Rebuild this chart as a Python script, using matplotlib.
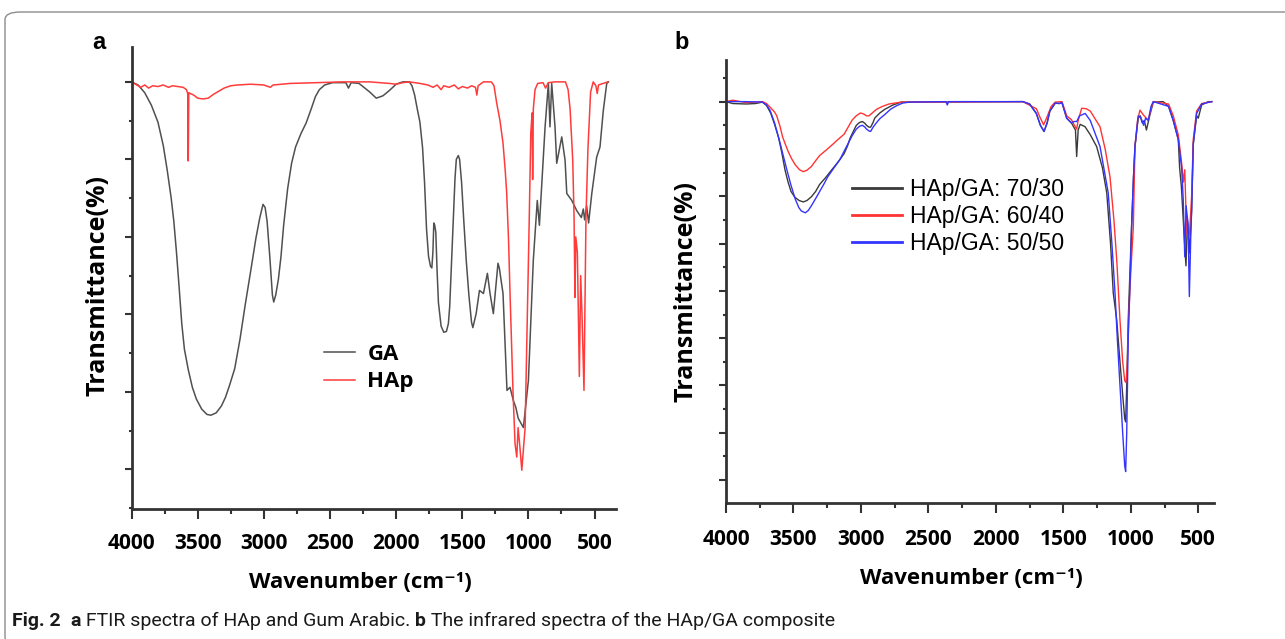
import matplotlib
matplotlib.use("Agg")
import matplotlib.pyplot as plt
from matplotlib.patches import FancyBboxPatch
from matplotlib.ticker import MultipleLocator, FixedLocator

# ---- panel a: FTIR of gum arabic (GA) and hydroxyapatite (HAp) ----
ga_wn = [4000, 3950, 3900, 3850, 3800, 3760, 3730, 3700, 3680, 3660, 3640, 3620, 3600,
         3570, 3540, 3510, 3470, 3430, 3400, 3360, 3320, 3290, 3260, 3220, 3180, 3140,
         3100, 3060, 3030, 3006, 2990, 2975, 2955, 2935, 2925, 2910, 2890, 2870, 2850,
         2820, 2790, 2760, 2720, 2680, 2640, 2610, 2580, 2540, 2480, 2380, 2360, 2340,
         2280, 2200, 2150, 2100, 2050, 2000, 1950, 1900, 1880, 1860, 1840, 1820, 1800,
         1785, 1770, 1755, 1740, 1730, 1722, 1715, 1708, 1700, 1690, 1680, 1660, 1640,
         1620, 1605, 1595, 1585, 1570, 1555, 1545, 1530, 1520, 1505, 1490, 1470, 1450,
         1430, 1420, 1395, 1370, 1340, 1310, 1290, 1265, 1230, 1220, 1192, 1162, 1139,
         1114, 1095, 1077, 1038, 1000, 963, 933, 917, 899, 874, 849, 837, 824, 799, 786,
         748, 723, 710, 672, 635, 600, 585, 575, 560, 545, 521, 484, 459, 434, 408, 395]
ga_t = [100, 99.6, 98.6, 97.0, 94.8, 91.8, 88.6, 85.0, 82.0, 78.0, 73.5, 68.8, 65.5,
        62.8, 60.6, 59.1, 57.8, 57.1, 57.0, 57.3, 58.2, 59.3, 60.8, 63.0, 66.8, 71.3,
        75.5, 79.8, 82.5, 84.2, 83.8, 82.0, 77.5, 72.5, 71.6, 72.5, 74.5, 77.5, 81.5,
        86.2, 89.5, 91.6, 93.3, 94.7, 96.6, 98.1, 99.0, 99.6, 99.9, 99.9, 99.2, 99.9,
        99.8, 98.7, 97.9, 98.2, 98.9, 99.7, 100, 100, 99.5, 98.3, 96.5, 94.8, 91.5,
        87.0, 81.0, 77.5, 76.2, 76.0, 78.0, 81.8, 81.5, 80.6, 75.5, 71.5, 68.5, 67.7,
        67.8, 68.8, 71.0, 75.0, 81.3, 87.5, 90.0, 90.5, 90.0, 87.0, 82.5, 77.0, 72.5,
        69.0, 68.3, 70.1, 73.1, 72.7, 75.3, 72.7, 70.1, 76.6, 76.0, 72.7, 60.2, 60.6,
        58.9, 58.0, 56.6, 55.4, 61.5, 77.0, 84.7, 81.5, 86.9, 94.2, 99.8, 94.2, 99.8,
        94.2, 89.5, 92.9, 89.9, 85.6, 84.7, 83.4, 82.5, 83.6, 82.2, 84.0, 81.8, 85.6,
        90.3, 91.6, 96.3, 99.8, 100]

hap_wn = [4000, 3960, 3930, 3900, 3870, 3840, 3800, 3760, 3720, 3690, 3650, 3610, 3585,
          3575, 3571, 3567, 3555, 3530, 3500, 3460, 3420, 3380, 3340, 3300, 3250, 3200,
          3100, 3000, 2950, 2930, 2800, 2600, 2400, 2200, 2050, 2000, 1950, 1900, 1820,
          1760, 1720, 1690, 1660, 1640, 1600, 1560, 1530, 1500, 1460, 1430, 1400, 1390,
          1380, 1340, 1280, 1260, 1240, 1215, 1192, 1175, 1164, 1150, 1139, 1127, 1116,
          1101, 1088, 1078, 1065, 1050, 1025, 1010, 995, 982, 972, 968, 963, 950, 930,
          890, 870, 850, 800, 720, 700, 685, 665, 655, 648, 642, 630, 615, 605, 595, 580,
          570, 565, 550, 530, 510, 490, 480, 470, 400]
hap_t = [100, 99.6, 99.3, 99.6, 99.2, 99.5, 99.4, 99.6, 99.3, 99.5, 99.4, 99.3, 99.0,
         98.5, 89.8, 98.6, 98.5, 98.3, 97.9, 97.8, 97.9, 98.4, 98.8, 99.2, 99.5, 99.6,
         99.7, 99.6, 99.3, 99.6, 99.8, 99.9, 100, 100, 99.8, 99.7, 99.9, 100, 99.8,
         99.6, 99.3, 99.6, 99.0, 99.5, 99.3, 99.6, 99.1, 99.4, 99.2, 99.5, 99.3, 98.3,
         99.5, 100, 100, 99.5, 97.3, 95.0, 92.1, 88.5, 85.6, 79.5, 72.7, 66.0, 59.8,
         53.3, 51.6, 55.4, 53.0, 49.9, 55.4, 68.3, 81.2, 93.4, 96.0, 87.4, 96.5, 99.0,
         99.8, 99.9, 99.2, 99.9, 100, 100, 99.0, 96.5, 89.9, 82.5, 72.2, 80.0, 78.0,
         62.0, 75.0, 70.0, 60.2, 75.0, 82.5, 91.4, 98.7, 100, 99.5, 98.5, 99.6, 100]

# ---- panel b: HAp/GA composites ----
c70_wn = [4000, 3950, 3850, 3780, 3730, 3700, 3669, 3640, 3609, 3585, 3563, 3540, 3518,
          3490, 3458, 3427, 3400, 3367, 3336, 3306, 3260, 3216, 3170, 3125, 3100, 3080,
          3055, 3034, 3010, 2989, 2970, 2959, 2940, 2928, 2910, 2898, 2860, 2822, 2762,
          2702, 1800, 1750, 1700, 1670, 1643, 1620, 1600, 1560, 1530, 1510, 1475, 1440,
          1410, 1401, 1390, 1375, 1339, 1300, 1253, 1210, 1178, 1150, 1130, 1104, 1080,
          1060, 1045, 1038, 1030, 1019, 1005, 994, 980, 969, 945, 930, 915, 900, 884, 860,
          833, 760, 720, 685, 648, 638, 625, 605, 591, 580, 565, 549, 537, 512, 500, 475,
          426, 400]
c70_t = [100, 99.6, 99.5, 99.6, 99.9, 99.2, 97.6, 95.2, 92.3, 89.0, 85.6, 83.0, 81.0,
         79.8, 79.1, 78.8, 79.1, 79.9, 81.0, 82.5, 84.0, 85.6, 87.2, 89.0, 90.6, 92.3,
         93.8, 95.0, 95.6, 95.8, 95.4, 95.0, 94.6, 94.6, 95.6, 96.5, 97.6, 98.4, 99.3,
         99.9, 100, 99.5, 97.5, 95.0, 93.7, 95.5, 98.0, 99.7, 99.6, 99.8, 96.5, 95.5,
         94.0, 88.4, 94.0, 95.2, 94.7, 93.0, 90.5, 86.0, 80.7, 70.0, 59.6, 53.8, 45.0,
         38.0, 33.0, 32.3, 40.0, 53.8, 65.0, 73.6, 84.0, 90.5, 96.5, 97.0, 95.5, 96.0,
         94.0, 97.0, 99.9, 100, 99.0, 96.0, 92.0, 86.0, 82.0, 72.0, 65.3, 75.0, 68.0,
         77.0, 91.0, 97.0, 96.5, 99.3, 100, 100]

c60_wn = [4000, 3950, 3850, 3730, 3700, 3669, 3640, 3624, 3600, 3580, 3563, 3540, 3515,
          3488, 3455, 3427, 3400, 3367, 3336, 3306, 3260, 3216, 3170, 3125, 3095, 3065,
          3035, 3004, 2980, 2959, 2940, 2928, 2900, 2883, 2840, 2792, 2702, 1800, 1700,
          1670, 1646, 1620, 1590, 1560, 1510, 1475, 1440, 1410, 1401, 1390, 1364, 1330,
          1300, 1228, 1190, 1154, 1125, 1104, 1080, 1060, 1045, 1035, 1025, 1015, 1000,
          981, 969, 950, 932, 907, 885, 870, 850, 833, 720, 685, 648, 623, 610, 600, 592,
          583, 574, 565, 549, 537, 512, 475, 400]
c60_t = [100, 100.3, 99.8, 100, 99.6, 98.7, 97.8, 97.0, 94.8, 92.5, 91.2, 89.5, 88.0,
         86.7, 85.6, 85.2, 85.5, 86.3, 87.5, 88.6, 89.7, 90.8, 92.0, 93.1, 94.6, 96.1,
         97.0, 97.6, 97.4, 97.0, 97.0, 97.3, 98.0, 98.4, 99.0, 99.5, 99.9, 100, 98.5,
         96.5, 95.1, 96.8, 99.0, 99.9, 100, 97.0, 96.2, 94.6, 94.2, 96.0, 98.6, 98.5,
         98.0, 94.7, 90.0, 84.1, 75.0, 66.5, 53.8, 45.0, 41.0, 40.6, 45.0, 55.0, 64.0,
         73.6, 90.5, 96.0, 98.2, 97.2, 96.5, 96.1, 98.5, 100, 99.5, 97.0, 93.0, 87.0,
         83.0, 85.6, 78.0, 72.0, 71.1, 72.0, 80.0, 92.0, 98.0, 99.6, 100]

c50_wn = [4000, 3950, 3850, 3730, 3700, 3674, 3640, 3600, 3575, 3549, 3520, 3488, 3460,
          3442, 3412, 3390, 3367, 3336, 3306, 3276, 3246, 3200, 3155, 3125, 3094, 3065,
          3034, 3010, 2989, 2970, 2959, 2940, 2928, 2910, 2889, 2860, 2822, 2780, 2732,
          2690, 2641, 2370, 2360, 2350, 1800, 1750, 1700, 1670, 1643, 1620, 1600, 1560,
          1530, 1510, 1475, 1440, 1420, 1401, 1380, 1338, 1300, 1228, 1167, 1140, 1117,
          1100, 1080, 1060, 1045, 1038, 1030, 1019, 1005, 994, 980, 969, 945, 925, 905,
          890, 870, 850, 833, 720, 685, 648, 623, 611, 600, 590, 575, 566, 555, 549, 537,
          512, 475, 400]
c50_t = [100, 100, 100, 99.9, 99.3, 98.2, 95.5, 91.3, 88.5, 85.6, 82.5, 79.5, 77.6,
         76.9, 76.5, 77.0, 78.0, 79.5, 81.0, 82.5, 84.1, 86.0, 87.8, 89.5, 91.2, 92.8,
         94.2, 94.8, 95.0, 94.6, 94.2, 93.8, 93.7, 94.6, 95.4, 96.4, 97.3, 98.4, 99.2,
         99.7, 99.9, 100, 99.3, 100, 100, 99.5, 97.5, 95.0, 93.7, 95.5, 98.0, 99.7,
         99.6, 99.8, 96.5, 95.5, 95.8, 95.8, 97.0, 97.5, 96.0, 90.5, 80.7, 70.0, 59.6,
         50.0, 40.0, 30.0, 23.0, 21.8, 30.0, 50.0, 62.0, 73.6, 84.0, 90.5, 97.0, 96.6,
         95.0, 96.5, 96.0, 99.0, 100, 99.0, 96.0, 92.0, 86.0, 79.2, 67.2, 78.0, 74.0,
         58.8, 72.0, 77.0, 91.0, 97.5, 99.5, 100]

ga_labels = ["GA", "HAp"]
comp_labels = ["HAp/GA: 70/30", "HAp/GA: 60/40", "HAp/GA: 50/50"]
xticks = [4000, 3500, 3000, 2500, 2000, 1500, 1000, 500]

W, H = 1285, 639
fig = plt.figure(figsize=(W / 100, H / 100), dpi=100)
BOLD = ["Open Sans", "DejaVu Sans"]


def px_axes(l, t, r, b):
    return fig.add_axes([l / W, 1 - b / H, (r - l) / W, (b - t) / H])


def style(ax, ylo, yhi, xhi, majors, minors, pad):
    ax.set_xlim(4000, xhi)
    ax.set_ylim(ylo, yhi)
    for s in ("top", "right"):
        ax.spines[s].set_visible(False)
    for s in ("left", "bottom"):
        ax.spines[s].set_linewidth(2)
        ax.spines[s].set_color("#333333")
    ax.xaxis.set_major_locator(FixedLocator(xticks))
    ax.xaxis.set_minor_locator(MultipleLocator(250))
    ax.yaxis.set_major_locator(FixedLocator(majors))
    ax.yaxis.set_minor_locator(FixedLocator(minors))
    ax.tick_params(axis="y", which="both", labelleft=False, color="#333333", width=1.5)
    ax.tick_params(axis="y", which="major", length=5)
    ax.tick_params(axis="y", which="minor", length=2.5)
    ax.tick_params(axis="x", which="both", color="#333333", width=1.5)
    ax.tick_params(axis="x", which="major", length=7.2, pad=pad, labelsize=15)
    ax.tick_params(axis="x", which="minor", length=3.6)
    ax.set_xticklabels([str(v) for v in xticks], fontweight="bold", family=BOLD)


# panel a
ax1 = px_axes(131.5, 47, 616, 509)
ax1.plot(ga_wn, ga_t, color="#505050", lw=1.1, label=ga_labels[0])
ax1.plot(hap_wn, hap_t, color="#ff3b3b", lw=1.1, label=ga_labels[1])
style(ax1, 44.9, 104.5, 338, range(50, 101, 10), range(45, 100, 10), 10)
ax1.legend(loc="upper left", bbox_to_anchor=(324 / W, 1 - 344 / H),
           bbox_transform=fig.transFigure, frameon=False, borderpad=0,
           borderaxespad=0, handlelength=1.4, handletextpad=0.55, labelspacing=0.29,
           prop={"family": BOLD, "weight": "bold", "size": 16})

# panel b
ax2 = px_axes(726, 60, 1214.3, 503.3)
ax2.plot(c70_wn, c70_t, color="#3a3a3a", lw=1.0, label=comp_labels[0])
ax2.plot(c60_wn, c60_t, color="#ff3333", lw=1.0, label=comp_labels[1])
ax2.plot(c50_wn, c50_t, color="#3434ff", lw=1.0, label=comp_labels[2])
style(ax2, 15.1, 108.8, 381, range(20, 101, 10), range(15, 106, 10), 11.5)
leg2 = ax2.legend(loc="upper left", bbox_to_anchor=(852 / W, 1 - 178 / H),
                  bbox_transform=fig.transFigure, frameon=False, borderpad=0,
                  borderaxespad=0, handlelength=2.2, handletextpad=0.35,
                  labelspacing=0.185,
                  prop={"family": ["Liberation Sans", "DejaVu Sans"], "size": 16.5})
for ln in leg2.get_lines():
    ln.set_linewidth(2)

# axis titles
for xc, yc in [(98, 286), (686, 291)]:
    fig.text(xc / W, 1 - yc / H, "Transmittance(%)", rotation=90, ha="center",
             va="center", fontsize=18, fontweight="bold", family=BOLD)
for xc, yc in [(360, 583), (971, 578)]:
    fig.text(xc / W, 1 - yc / H, "Wavenumber (cm\u207b\u00b9)", ha="center",
             va="center", fontsize=16, fontweight="bold", family=BOLD)

fig.text(92 / W, 1 - 49 / H, "a", fontsize=17, fontweight="bold",
         family=["Liberation Sans", "DejaVu Sans"], va="baseline")
fig.text(674 / W, 1 - 49 / H, "b", fontsize=17, fontweight="bold",
         family=["Liberation Sans", "DejaVu Sans"], va="baseline")

# rounded frame and caption
frame = FancyBboxPatch((5 / W, 1 - 645 / H), 1300 / W, 633 / H,
                       boxstyle="round,pad=0,rounding_size=0.012",
                       transform=fig.transFigure, fill=False, ec="#8c8c8c", lw=1.0,
                       clip_on=False)
fig.patches.append(frame)

pieces = [("Fig. 2", "bold"), ("  ", "normal"), ("a", "bold"),
          (" FTIR spectra of HAp and Gum Arabic. ", "normal"), ("b", "bold"),
          (" The infrared spectra of the HAp/GA composite", "normal")]
fig.canvas.draw()
renderer = fig.canvas.get_renderer()
x = 12
for txt, wt in pieces:
    t = fig.text(x / W, 1 - 626 / H, txt, fontsize=14, fontweight=wt,
                 family=["Roboto", "DejaVu Sans"], va="baseline", color="#1a1a1a")
    x += t.get_window_extent(renderer).width

fig.savefig("out.png", dpi=100)
